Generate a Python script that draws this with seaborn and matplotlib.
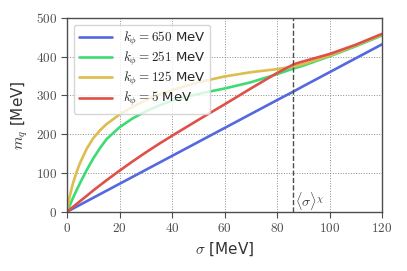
import numpy as np
import pandas as pd
import matplotlib
matplotlib.use('Agg')
import matplotlib.pyplot as plt
import seaborn as sns

sigma = [0, 0.5, 1, 2, 3, 4, 5, 7.5, 10, 12.5, 15, 20, 25, 30, 35, 40, 50, 60, 70, 80, 86.5, 90, 100, 110, 120]
m_650 = [0, 1.8, 3.6, 7.2, 10.8, 14.4, 18, 27, 36, 45, 54, 72, 90, 108, 126, 144, 180, 216, 252, 288, 311, 324, 360, 396, 432]
m_251 = [0, 8, 16, 32, 47, 61, 75, 108, 138, 164, 187, 218, 241, 259, 274, 287, 304, 318, 334, 355, 370, 377, 401, 427, 455]
m_125 = [0, 22, 40, 68, 90, 110, 127, 163, 190, 210, 226, 251, 271, 288, 302, 314, 334, 349, 360, 368, 375, 381, 403, 429, 457]
m_5 = [0, 2.7, 5.4, 11, 16.5, 22, 27.5, 41, 55, 68, 81, 106, 130, 153, 175, 196, 237, 277, 318, 358, 381, 388, 407, 431, 459]
labels = [r'$k_\phi = 650$ MeV', r'$k_\phi = 251$ MeV', r'$k_\phi = 125$ MeV', r'$k_\phi = 5$ MeV']
colors = ['#5468e0', '#3ddc72', '#dcbd4e', '#de5148']
sigma_chi = 86

df = pd.DataFrame({'sigma': sigma * 4,
                   'm': m_650 + m_251 + m_125 + m_5,
                   'k': sum([[l] * len(sigma) for l in labels], [])})

sns.set_style('ticks')
plt.rcParams['mathtext.fontset'] = 'cm'
plt.rcParams['font.family'] = ['DejaVu Sans']

fig = plt.figure(figsize=(4.07, 2.71), dpi=100)
ax = fig.add_axes([0.165, 0.219, 0.7736, 0.7146])

sns.lineplot(data=df, x='sigma', y='m', hue='k', palette=colors, linewidth=1.9, ax=ax)

ax.axvline(sigma_chi, color='0.3', linestyle='--', linewidth=1.0)
ax.text(sigma_chi + 1.0, 12, r'$\langle\sigma\rangle^\chi$', fontsize=10, color='0.2')

ax.set_xlim(0, 120)
ax.set_ylim(0, 500)
ax.set_xticks(range(0, 121, 20))
ax.set_yticks(range(0, 501, 100))
ax.set_xticklabels(['$%d$' % v for v in range(0, 121, 20)], fontsize=9.5, color='0.3')
ax.set_yticklabels(['$%d$' % v for v in range(0, 501, 100)], fontsize=9.5, color='0.3')
ax.grid(True, linestyle=':', color='0.55', linewidth=0.7)
for s in ax.spines.values():
    s.set_color('0.3')
    s.set_linewidth(1.0)
ax.tick_params(length=4, color='0.3')

ax.set_xlabel(r'$\sigma$ [MeV]', fontsize=11, color='0.2')
ax.set_ylabel(r'$m_q$ [MeV]', fontsize=11, color='0.2')
ax.legend(title=None, loc='upper left', fontsize=9.5, framealpha=0.8, handlelength=2.5,
          borderpad=0.4, labelspacing=0.15)

plt.savefig('out.png', dpi=100)
plt.close()
